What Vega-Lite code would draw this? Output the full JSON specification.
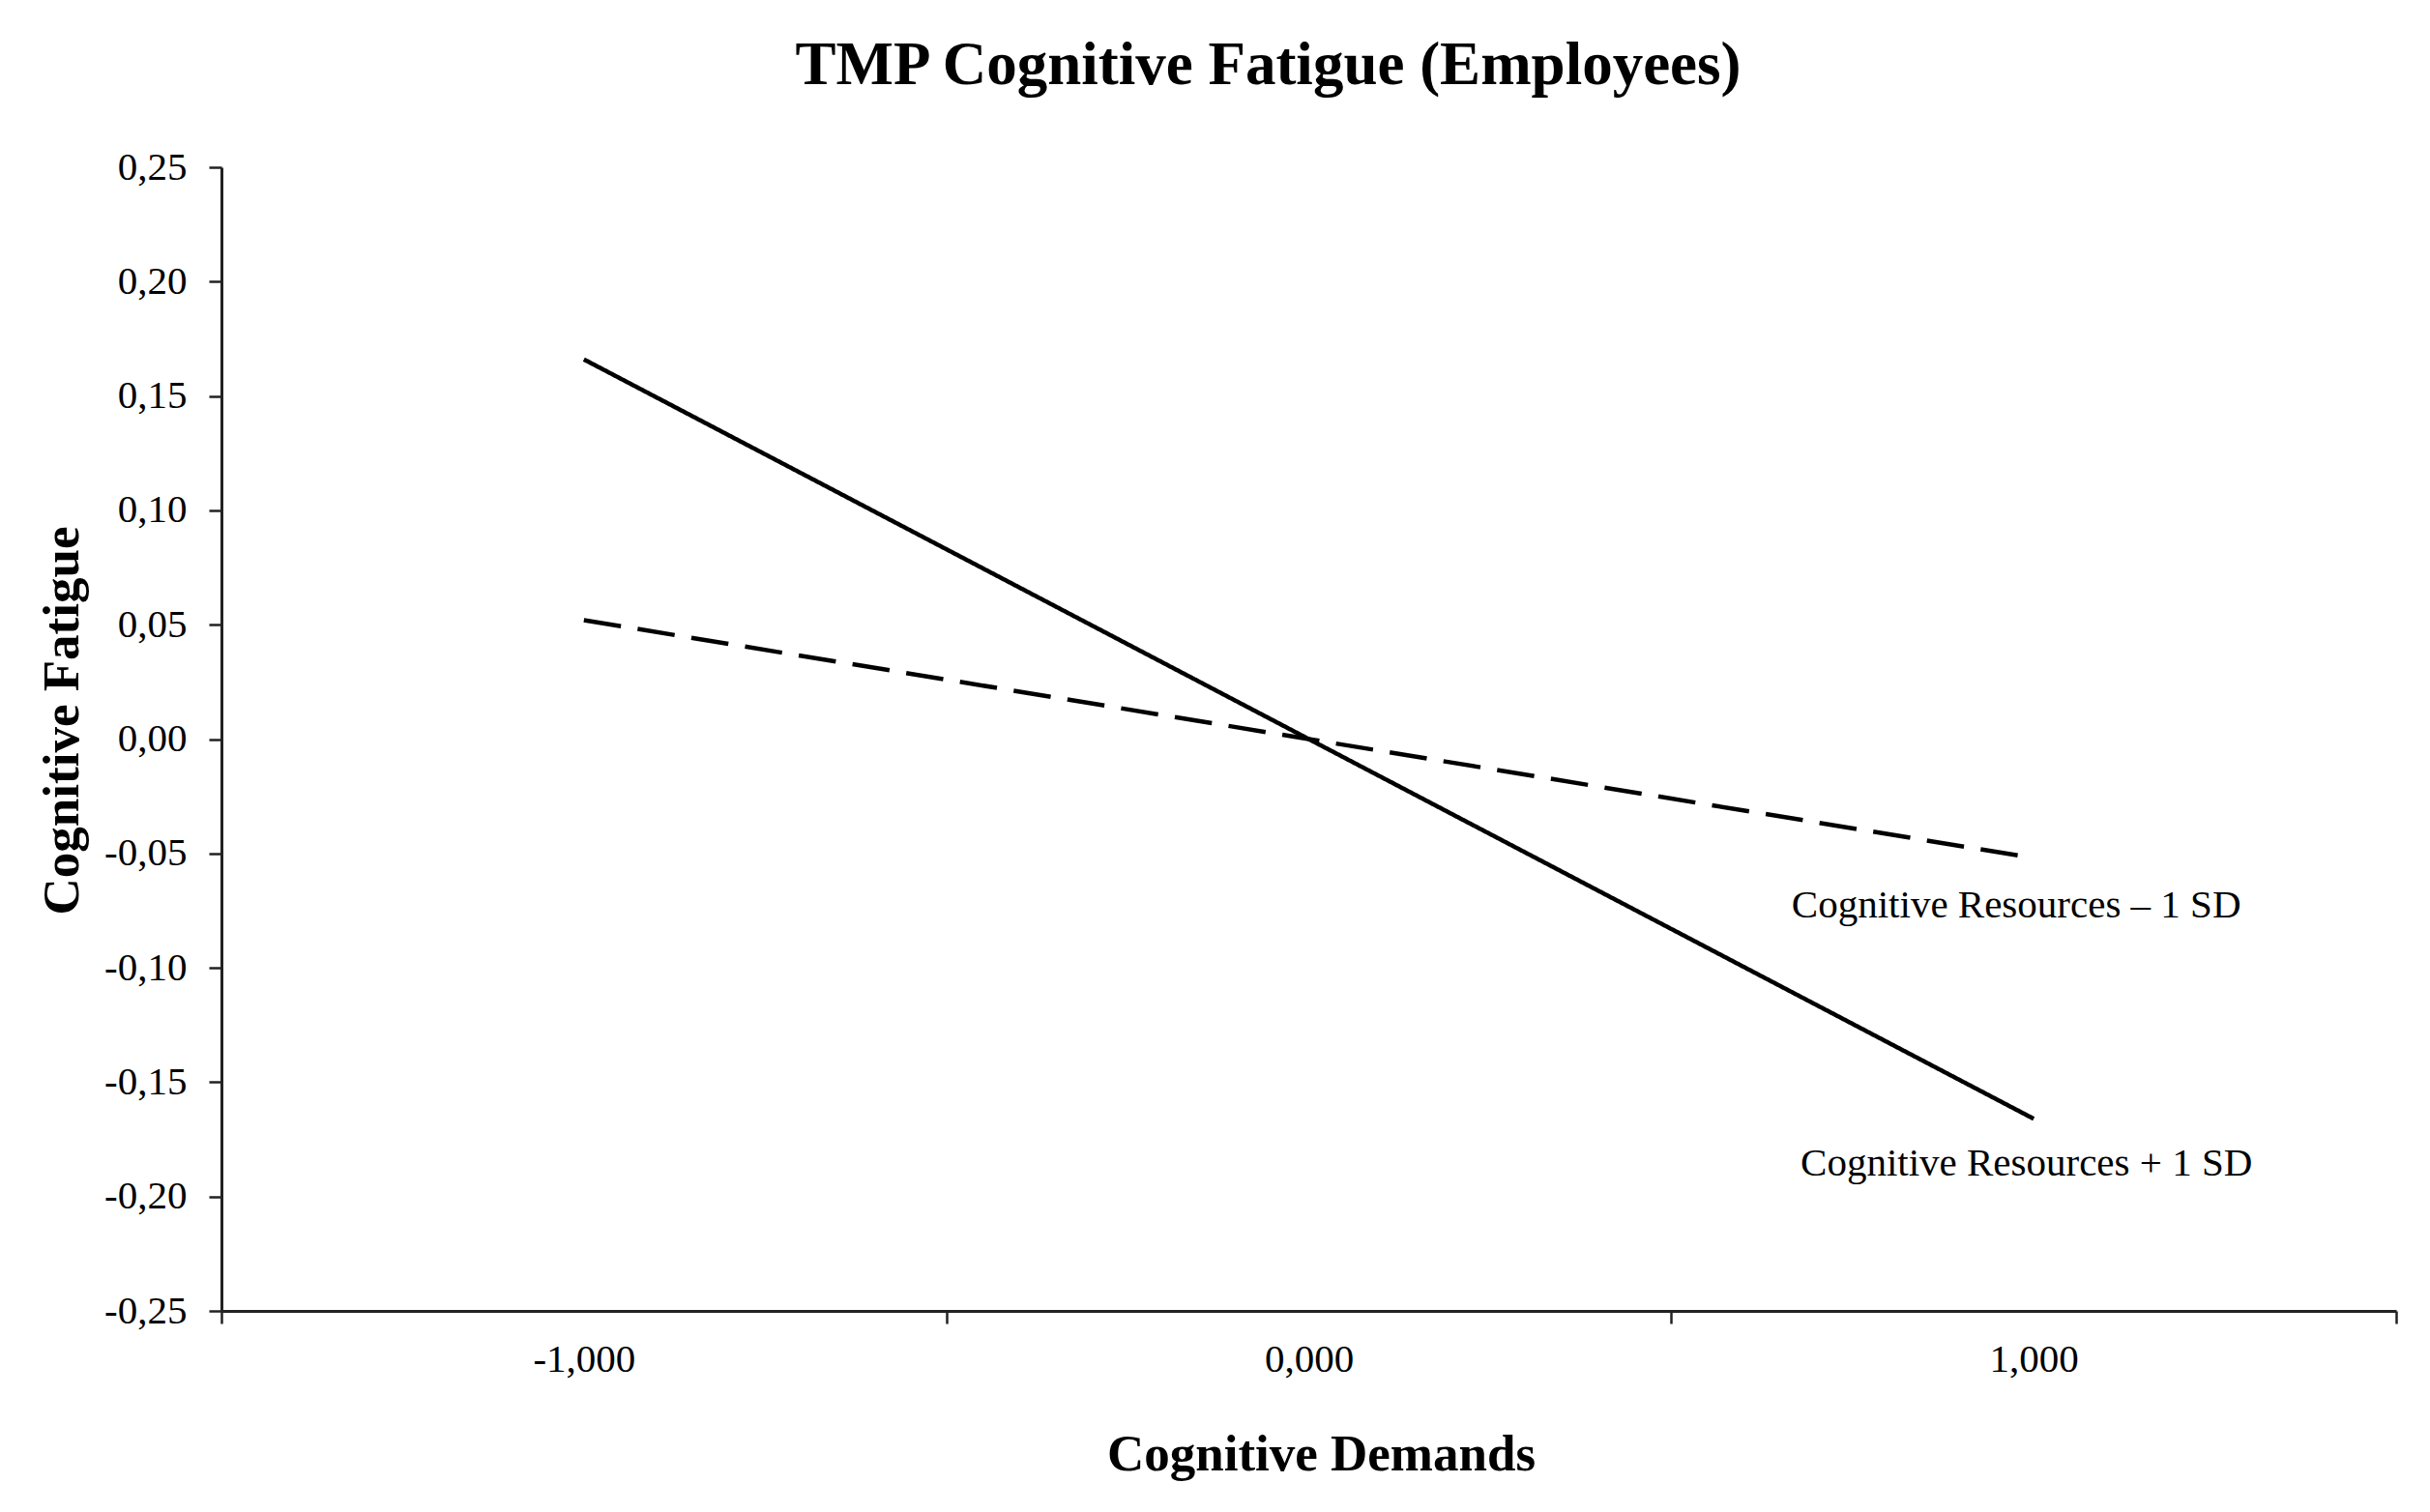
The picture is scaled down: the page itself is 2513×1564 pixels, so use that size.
{
  "$schema": "https://vega.github.io/schema/vega-lite/v6.json",
  "autosize": "none",
  "width": 2249,
  "height": 1183,
  "padding": {"left": 229, "top": 173, "right": 35, "bottom": 208},
  "background": "white",
  "config": {"view": {"stroke": null}},
  "title": {
    "text": "TMP Cognitive Fatigue (Employees)",
    "frame": "group",
    "anchor": "middle",
    "offset": 2,
    "baseline": "alphabetic",
    "dx": -42,
    "font": "Liberation Serif",
    "fontSize": 63,
    "fontWeight": "bold",
    "color": "black"
  },
  "datasets": {
    "lines": [
      {"demands": -1, "fatigue": 0.166, "series": "Cognitive Resources + 1 SD"},
      {"demands": 0, "fatigue": 0.0, "series": "Cognitive Resources + 1 SD"},
      {"demands": 1, "fatigue": -0.166, "series": "Cognitive Resources + 1 SD"},
      {"demands": -1, "fatigue": 0.052, "series": "Cognitive Resources – 1 SD"},
      {"demands": 0, "fatigue": 0.0, "series": "Cognitive Resources – 1 SD"},
      {"demands": 1, "fatigue": -0.052, "series": "Cognitive Resources – 1 SD"}
    ],
    "labels": [
      {"demands": 0.976, "fatigue": -0.078, "label": "Cognitive Resources – 1 SD"},
      {"demands": 0.99, "fatigue": -0.191, "label": "Cognitive Resources + 1 SD"}
    ]
  },
  "layer": [
    {
      "data": {"name": "lines"},
      "mark": {"type": "line", "color": "black", "strokeWidth": 4.5, "strokeCap": "butt"},
      "encoding": {
        "x": {
          "field": "demands",
          "type": "quantitative",
          "scale": {"domain": [-1.5, 1.5], "nice": false, "zero": false},
          "axis": {
            "values": [-1.5, -1, -0.5, 0, 0.5, 1, 1.5],
            "labelExpr": "datum.value % 1 === 0 ? replace(replace(format(datum.value, '.3f'), '.', ','), '\u2212', '-') : ''",
            "grid": false,
            "domainColor": "#222",
            "domainWidth": 3,
            "tickColor": "#222",
            "tickWidth": 2.5,
            "tickSize": 13,
            "tickOpacity": {"condition": {"test": "datum.value % 1 === 0", "value": 0}, "value": 1},
            "labelFont": "Liberation Serif",
            "labelFontSize": 41,
            "labelColor": "black",
            "labelBaseline": "alphabetic",
            "labelPadding": 49,
            "labelFlush": false,
            "labelOverlap": false,
            "title": "Cognitive Demands",
            "titleFont": "Liberation Serif",
            "titleFontSize": 53,
            "titleFontWeight": "bold",
            "titleColor": "black",
            "titleBaseline": "alphabetic",
            "titleX": 1137,
            "titleY": 164
          }
        },
        "y": {
          "field": "fatigue",
          "type": "quantitative",
          "scale": {"domain": [-0.25, 0.25], "nice": false, "zero": false},
          "axis": {
            "values": [-0.25, -0.2, -0.15, -0.1, -0.05, 0, 0.05, 0.1, 0.15, 0.2, 0.25],
            "labelExpr": "replace(replace(format(datum.value, '.2f'), '.', ','), '\u2212', '-')",
            "grid": false,
            "domainColor": "#222",
            "domainWidth": 3,
            "tickColor": "#222",
            "tickWidth": 2.5,
            "tickSize": 13,
            "labelFont": "Liberation Serif",
            "labelFontSize": 41,
            "labelColor": "black",
            "labelPadding": 23,
            "labelFlush": false,
            "labelOverlap": false,
            "title": "Cognitive Fatigue",
            "titleFont": "Liberation Serif",
            "titleFontSize": 53,
            "titleFontWeight": "bold",
            "titleColor": "black",
            "titleAngle": -90,
            "titleBaseline": "alphabetic",
            "titleAlign": "center",
            "titleX": -149,
            "titleY": 572
          }
        },
        "strokeDash": {
          "field": "series",
          "type": "nominal",
          "scale": {"domain": ["Cognitive Resources + 1 SD", "Cognitive Resources – 1 SD"], "range": [[1, 0], [38.8, 17.5]]},
          "legend": null
        }
      }
    },
    {
      "data": {"name": "labels"},
      "mark": {"type": "text", "font": "Liberation Serif", "fontSize": 41, "color": "black", "align": "center", "baseline": "alphabetic"},
      "encoding": {
        "x": {"field": "demands", "type": "quantitative"},
        "y": {"field": "fatigue", "type": "quantitative"},
        "text": {"field": "label"}
      }
    }
  ]
}
